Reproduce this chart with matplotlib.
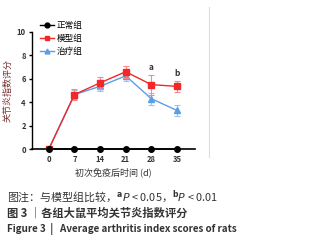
import numpy as np
import matplotlib
matplotlib.use("Agg")
import matplotlib.pyplot as plt
from matplotlib.lines import Line2D

plt.rcParams['font.family'] = ['Noto Sans CJK SC', 'DejaVu Sans']
plt.rcParams['axes.unicode_minus'] = False

days = [0, 7, 14, 21, 28, 35]
normal = [0, 0, 0, 0, 0, 0]
model = [0, 4.65, 5.65, 6.6, 5.5, 5.35]
model_err = [0, 0.5, 0.5, 0.5, 0.85, 0.5]
treat = [0, 4.65, 5.35, 6.25, 4.3, 3.3]
treat_err = [0, 0.4, 0.4, 0.45, 0.5, 0.5]
sig_labels = {28: "a", 35: "b"}

series_names = ["正常组", "模型组", "治疗组"]
caption1 = "图注：与模型组比较，$^{\\mathbf{a}}$$\\it{P}$ < 0.05，$^{\\mathbf{b}}$$\\it{P}$ < 0.01"
caption2 = "图 3 ｜各组大鼠平均关节炎指数评分"
caption3 = "Figure 3  |   Average arthritis index scores of rats"

red = "#f0282a"
blue = "#5b9ee8"
txt = "#333333"

fig = plt.figure(figsize=(3.2, 2.4), dpi=100)
ax = fig.add_axes([0.1, 0.379, 0.51, 0.488])

ax.errorbar(days, treat, yerr=treat_err, color=blue, marker="^", ms=4,
            lw=1, ecolor="#9cc4f0", elinewidth=0.8, capsize=2, capthick=0.8, zorder=3)
ax.errorbar(days, model, yerr=model_err, color=red, marker="s", ms=4,
            lw=1, ecolor="#f58a8a", elinewidth=0.8, capsize=2, capthick=0.8, zorder=4)
ax.plot(days, normal, color="black", marker="o", ms=4, lw=1.2, zorder=5, clip_on=False)

for d, lab in sig_labels.items():
    i = days.index(d)
    ax.text(d, model[i] + model_err[i] + 0.25, lab, ha="center", va="bottom",
            fontsize=6, fontweight="bold", color=txt)

ax.set_xlim(-4.6, 40)
ax.set_ylim(0, 10)
ax.set_xticks(days)
ax.set_yticks([0, 2, 4, 6, 8, 10])
ax.tick_params(labelsize=5.5, length=2.5, width=1, pad=2, colors="black")
for lab in ax.get_xticklabels() + ax.get_yticklabels():
    lab.set_fontweight("bold")
    lab.set_color(txt)
ax.spines["top"].set_visible(False)
ax.spines["right"].set_visible(False)
ax.spines["left"].set_linewidth(1)
ax.spines["bottom"].set_linewidth(1.2)
ax.set_xlabel("初次免疫后时间 (d)", fontsize=6.5, color=txt, labelpad=2)
ax.set_ylabel("关节炎指数评分", fontsize=6.5, color="#7a3030", labelpad=3)

handles = [
    Line2D([], [], color="black", marker="o", ms=3.5, lw=1),
    Line2D([], [], color=red, marker="s", ms=3.5, lw=1),
    Line2D([], [], color=blue, marker="^", ms=3.5, lw=1),
]
ax.legend(handles, series_names, loc="upper left", bbox_to_anchor=(0.03, 1.12),
          frameon=False, fontsize=6.2, handlelength=1.6, handletextpad=0.3,
          labelspacing=0.45, borderaxespad=0)

# light separator line on the right
fig.add_artist(Line2D([0.653, 0.653], [1 - 7 / 240, 1 - 157 / 240],
                      transform=fig.transFigure, color="#dddddd", lw=0.8))

fig.text(0.022, 1 - 197 / 240, caption1, fontsize=7.9, color=txt, va="center")
fig.text(0.022, 1 - 213 / 240, caption2, fontsize=8.1, color=txt, va="center", fontweight="bold")
fig.text(0.022, 1 - 229 / 240, caption3, fontsize=7.1, color=txt, va="center", fontweight="bold")

fig.savefig("out.png", dpi=100)
